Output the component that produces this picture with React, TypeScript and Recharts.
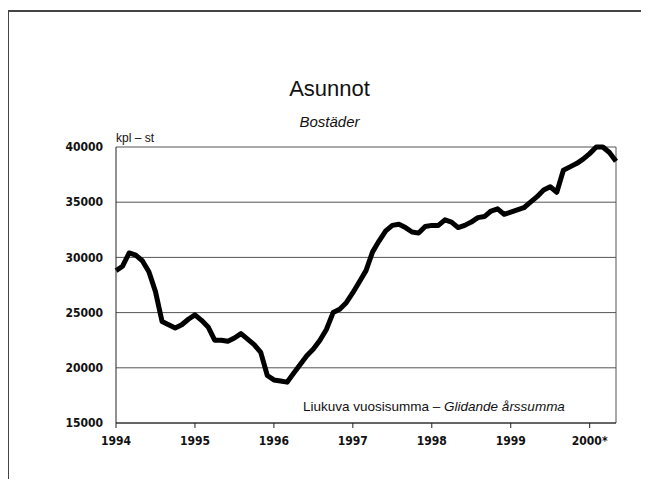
import React from 'react';
import { LineChart, Line, XAxis, YAxis, CartesianGrid, ReferenceLine } from 'recharts';

// Moving yearly sum of dwellings, monthly points
const YEARS = [1994, 1995, 1996, 1997, 1998, 1999, 2000];
const units1994 = [28800, 29200, 30400, 30200, 29700, 28700, 26900, 24200, 23900, 23600, 23900, 24400];
const units1995 = [24800, 24300, 23700, 22500, 22500, 22400, 22700, 23100, 22600, 22100, 21400, 19300];
const units1996 = [18900, 18800, 18700, 19500, 20300, 21100, 21700, 22500, 23500, 25000, 25300, 25900];
const units1997 = [26800, 27800, 28800, 30500, 31500, 32400, 32900, 33000, 32700, 32300, 32200, 32800];
const units1998 = [32900, 32900, 33400, 33200, 32700, 32900, 33200, 33600, 33700, 34200, 34400, 33900];
const units1999 = [34100, 34300, 34500, 35000, 35500, 36100, 36400, 35900, 37900, 38200, 38500, 38900];
const units2000 = [39400, 40000, 40000, 39500, 38700];

const Y_TICKS = [15000, 20000, 25000, 30000, 35000, 40000];
const X_TICKS = [1994, 1995, 1996, 1997, 1998, 1999, 2000];
const X_LABELS = ['1994', '1995', '1996', '1997', '1998', '1999', '2000*'];

const series = [units1994, units1995, units1996, units1997, units1998, units1999, units2000];
const data = series.flatMap((vals, yi) =>
  vals.map((v, m) => ({ t: YEARS[yi] + m / 12, value: v }))
);
const xEnd = data[data.length - 1].t;

const FONT = '"Liberation Sans Narrow", "DejaVu Sans Condensed", "Liberation Sans", sans-serif';

export default function App() {
  return (
    <div style={{ position: 'relative', width: 633, height: 471, fontFamily: FONT, color: '#111' }}>
      <style>{'html, body { overflow: hidden; }'}</style>
      {/* scanned page frame */}
      <div
        style={{
          position: 'absolute',
          left: -1,
          top: 2,
          right: -5,
          bottom: 0,
          borderTop: '2px solid #444',
          borderLeft: '2px solid #444',
        }}
      />
      <div style={{ position: 'absolute', left: 5, width: 633, top: 68, textAlign: 'center', fontSize: 22, fontFamily: '"Liberation Sans", sans-serif' }}>
        Asunnot
      </div>
      <div style={{ position: 'absolute', left: 5, width: 633, top: 105, textAlign: 'center', fontSize: 15, fontStyle: 'italic', fontFamily: '"Liberation Sans", sans-serif' }}>
        Bostäder
      </div>
      <div style={{ position: 'absolute', left: 108, top: 123, fontSize: 12, fontFamily: '"Liberation Sans", sans-serif' }}>
        kpl – st
      </div>
      <div style={{ position: 'absolute', left: 295, top: 391, fontSize: 13.5, fontFamily: '"Liberation Sans", sans-serif' }}>
        Liukuva vuosisumma – <i>Glidande årssumma</i>
      </div>
      <LineChart
        width={633}
        height={471}
        data={data}
        margin={{ top: 139, right: 25, left: 48, bottom: 26 }}
        style={{ position: 'absolute', left: 0, top: 0 }}
      >
        <CartesianGrid vertical={false} stroke="#555" strokeWidth={1} />
        <XAxis
          dataKey="t"
          type="number"
          domain={[1994, xEnd]}
          ticks={X_TICKS}
          tickFormatter={(v, i) => X_LABELS[i]}
          tickSize={5}
          tickMargin={8}
          height={30}
          stroke="#222"
          tick={{ fontSize: 12, fontWeight: 'bold', fill: '#111', fontFamily: FONT }}
        />
        <YAxis
          type="number"
          domain={[15000, 40000]}
          ticks={Y_TICKS}
          width={60}
          tickLine={false}
          tickMargin={7}
          stroke="#222"
          tick={{ fontSize: 12, fontWeight: 'bold', fill: '#111', fontFamily: FONT }}
        />
        <ReferenceLine x={xEnd} stroke="#555" strokeWidth={1} />
        <Line
          type="linear"
          dataKey="value"
          stroke="#000"
          strokeWidth={5}
          strokeLinejoin="round"
          dot={false}
          isAnimationActive={false}
        />
      </LineChart>
    </div>
  );
}
